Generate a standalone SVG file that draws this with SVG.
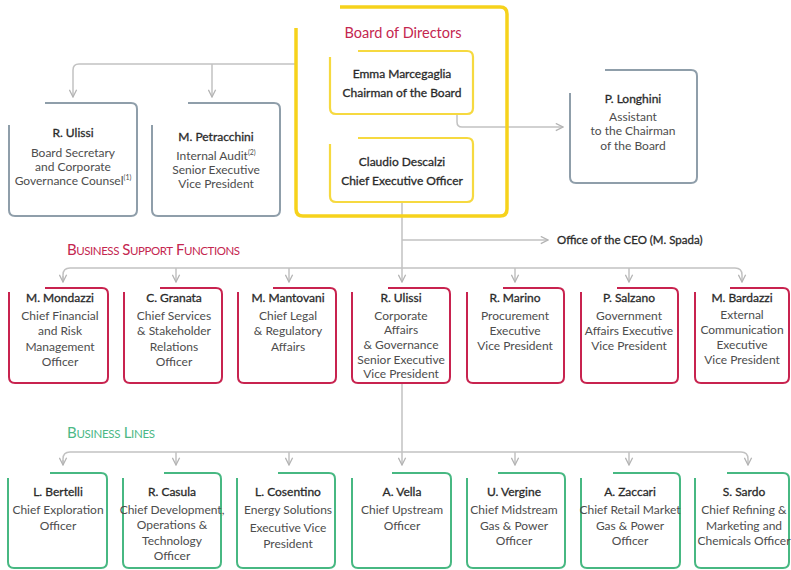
<svg xmlns="http://www.w3.org/2000/svg" width="791" height="570" viewBox="0 0 791 570">
<defs>
<marker id="arr" viewBox="0 0 10 10" refX="9" refY="5" markerWidth="9" markerHeight="9" markerUnits="userSpaceOnUse" orient="auto">
<path d="M1,1 L9,5 L1,9" fill="none" stroke="#b3b3b3" stroke-width="1.4"/>
</marker>
<style>
.conn{fill:none;stroke:#c2c2c2;stroke-width:1.5}
.gray{fill:none;stroke:#8f9eaa;stroke-width:2}
.red{fill:none;stroke:#c8234f;stroke-width:2}
.green{fill:none;stroke:#47b882;stroke-width:2}
.yb{fill:none;stroke:#f6d21c;stroke-width:3.5}
.yi{fill:none;stroke:#f6d940;stroke-width:2.2}
text{font-family:Lato,"Open Sans","Liberation Sans",sans-serif;font-size:12px;fill:#4d4d4d;text-anchor:middle}
.nm{fill:#2a2a2a;stroke:#2a2a2a;stroke-width:0.3}
.hd{text-anchor:start}
.sup{font-size:7px}
</style>
</defs>

<g id="connectors">
<path class="conn" d="M296,64 H79 Q73,64 73,70 V97" marker-end="url(#arr)"/>
<path class="conn" d="M212,64 V97" marker-end="url(#arr)"/>
<path class="conn" d="M457,114 V122 Q457,127 462,127 H563" marker-end="url(#arr)"/>
<path class="conn" d="M402,202 V282" marker-end="url(#arr)"/>
<path class="conn" d="M402,240 H548" marker-end="url(#arr)"/>
<path class="conn" d="M63,282 V275 Q63,268 70,268 H735 Q742,268 742,275 V282" marker-end="url(#arr)"/>
<path class="conn" d="M63,276 V282" marker-end="url(#arr)"/>
<path class="conn" d="M176,268 V282" marker-end="url(#arr)"/>
<path class="conn" d="M289,268 V282" marker-end="url(#arr)"/>
<path class="conn" d="M515,268 V282" marker-end="url(#arr)"/>
<path class="conn" d="M629,268 V282" marker-end="url(#arr)"/>
<path class="conn" d="M402,384 V465" marker-end="url(#arr)"/>
<path class="conn" d="M63,465 V459 Q63,452 70,452 H741 Q748,452 748,459 V465" marker-end="url(#arr)"/>
<path class="conn" d="M63,460 V465" marker-end="url(#arr)"/>
<path class="conn" d="M176,452 V465" marker-end="url(#arr)"/>
<path class="conn" d="M289,452 V465" marker-end="url(#arr)"/>
<path class="conn" d="M515,452 V465" marker-end="url(#arr)"/>
<path class="conn" d="M629,452 V465" marker-end="url(#arr)"/>
</g>

<g id="board">
<path class="yb" d="M296,28 V209 Q296,216 303,216 H500 Q507,216 507,209 V14 Q507,7 500,7 H340"/>
<text x="403" y="38" style="font-size:14.5px;fill:#c4264f">Board of Directors</text>
</g>
<g id="chairman">
<path class="yi" d="M330,57 V108 Q330,114 336,114 H467 Q473,114 473,108 V57 Q473,51 467,51 H358"/>
<text class="nm" x="402" y="78">Emma Marcegaglia</text>
<text class="nm" x="402" y="97">Chairman of the Board</text>
</g>
<g id="ceo">
<path class="yi" d="M330,144 V196 Q330,202 336,202 H467 Q473,202 473,196 V144 Q473,138 467,138 H358"/>
<text class="nm" x="402" y="166">Claudio Descalzi</text>
<text class="nm" x="402" y="185">Chief Executive Officer</text>
</g>

<g id="ulissi-board">
<path class="gray" d="M9,125 V210 Q9,216 15,216 H131 Q137,216 137,210 V109 Q137,103 131,103 H45"/>
<text class="nm" x="73" y="137">R. Ulissi</text>
<text x="73" y="157">Board Secretary</text>
<text x="73" y="171">and Corporate</text>
<text x="73" y="185">Governance Counsel<tspan class="sup" dy="-5">(1)</tspan></text>
</g>
<g id="petracchini">
<path class="gray" d="M152,125 V210 Q152,216 158,216 H274 Q280,216 280,210 V109 Q280,103 274,103 H188"/>
<text class="nm" x="216" y="141">M. Petracchini</text>
<text x="216" y="160">Internal Audit<tspan class="sup" dy="-5">(2)</tspan></text>
<text x="216" y="174">Senior Executive</text>
<text x="216" y="188">Vice President</text>
</g>
<g id="longhini">
<path class="gray" d="M570,93 V177 Q570,183 576,183 H691 Q697,183 697,177 V76 Q697,70 691,70 H605"/>
<text class="nm" x="633" y="103">P. Longhini</text>
<text x="633" y="121">Assistant</text>
<text x="633" y="135">to the Chairman</text>
<text x="633" y="150">of the Board</text>
</g>
<g id="office-ceo">
<text class="nm hd" x="557" y="244" style="font-size:11.5px">Office of the CEO (M. Spada)</text>
</g>

<g id="heading-support">
<text class="hd" x="67" y="255" textLength="173" lengthAdjust="spacing" style="fill:#c4264f;font-size:15px">B<tspan style="font-size:11.5px">USINESS</tspan> S<tspan style="font-size:11.5px">UPPORT</tspan> F<tspan style="font-size:11.5px">UNCTIONS</tspan></text>
</g>

<g id="mondazzi">
<path class="red" d="M9,292 V377 Q9,383 15,383 H102 Q108,383 108,377 V294 Q108,288 102,288 H45"/>
<text class="nm" x="60" y="302">M. Mondazzi</text>
<text x="60" y="320">Chief Financial</text>
<text x="60" y="335">and Risk</text>
<text x="60" y="351">Management</text>
<text x="60" y="366">Officer</text>
</g>
<g id="granata">
<path class="red" d="M124,292 V377 Q124,383 130,383 H216 Q222,383 222,377 V294 Q222,288 216,288 H160"/>
<text class="nm" x="174" y="302">C. Granata</text>
<text x="174" y="320">Chief Services</text>
<text x="174" y="335">&amp; Stakeholder</text>
<text x="174" y="351">Relations</text>
<text x="174" y="366">Officer</text>
</g>
<g id="mantovani">
<path class="red" d="M238,292 V377 Q238,383 244,383 H330 Q336,383 336,377 V294 Q336,288 330,288 H273"/>
<text class="nm" x="288" y="302">M. Mantovani</text>
<text x="288" y="320">Chief Legal</text>
<text x="288" y="335">&amp; Regulatory</text>
<text x="288" y="351">Affairs</text>
</g>
<g id="ulissi-corporate">
<path class="red" d="M352,292 V377 Q352,383 358,383 H444 Q450,383 450,377 V294 Q450,288 444,288 H388"/>
<text class="nm" x="401" y="302">R. Ulissi</text>
<text x="401" y="320">Corporate</text>
<text x="401" y="334">Affairs</text>
<text x="401" y="349">&amp; Governance</text>
<text x="401" y="364">Senior Executive</text>
<text x="401" y="378">Vice President</text>
</g>
<g id="marino">
<path class="red" d="M467,292 V377 Q467,383 473,383 H558 Q564,383 564,377 V294 Q564,288 558,288 H503"/>
<text class="nm" x="515" y="302">R. Marino</text>
<text x="515" y="320">Procurement</text>
<text x="515" y="335">Executive</text>
<text x="515" y="350">Vice President</text>
</g>
<g id="salzano">
<path class="red" d="M581,292 V377 Q581,383 587,383 H672 Q678,383 678,377 V294 Q678,288 672,288 H617"/>
<text class="nm" x="629" y="302">P. Salzano</text>
<text x="629" y="320">Government</text>
<text x="629" y="335">Affairs Executive</text>
<text x="629" y="350">Vice President</text>
</g>
<g id="bardazzi">
<path class="red" d="M695,292 V377 Q695,383 701,383 H783 Q789,383 789,377 V294 Q789,288 783,288 H730"/>
<text class="nm" x="742" y="302">M. Bardazzi</text>
<text x="742" y="319">External</text>
<text x="742" y="334">Communication</text>
<text x="742" y="349">Executive</text>
<text x="742" y="364">Vice President</text>
</g>

<g id="heading-lines">
<text class="hd" x="67" y="438" textLength="88" lengthAdjust="spacing" style="fill:#4cb886;font-size:15px">B<tspan style="font-size:11.5px">USINESS</tspan> L<tspan style="font-size:11.5px">INES</tspan></text>
</g>

<g id="bertelli">
<path class="green" d="M8,478 V562 Q8,568 14,568 H101 Q107,568 107,562 V479 Q107,473 101,473 H50"/>
<text class="nm" x="58" y="496">L. Bertelli</text>
<text x="58" y="514">Chief Exploration</text>
<text x="58" y="530">Officer</text>
</g>
<g id="casula">
<path class="green" d="M123,478 V562 Q123,568 129,568 H215 Q221,568 221,562 V479 Q221,473 215,473 H164"/>
<text class="nm" x="172" y="496">R. Casula</text>
<text x="172" y="514">Chief Development,</text>
<text x="172" y="529">Operations &amp;</text>
<text x="172" y="545">Technology</text>
<text x="172" y="560">Officer</text>
</g>
<g id="cosentino">
<path class="green" d="M237,478 V562 Q237,568 243,568 H329 Q335,568 335,562 V479 Q335,473 329,473 H278"/>
<text class="nm" x="288" y="496">L. Cosentino</text>
<text x="288" y="514">Energy Solutions</text>
<text x="288" y="532">Executive Vice</text>
<text x="288" y="548">President</text>
</g>
<g id="vella">
<path class="green" d="M352,478 V562 Q352,568 358,568 H445 Q451,568 451,562 V479 Q451,473 445,473 H392"/>
<text class="nm" x="402" y="496">A. Vella</text>
<text x="402" y="514">Chief Upstream</text>
<text x="402" y="530">Officer</text>
</g>
<g id="vergine">
<path class="green" d="M467,478 V562 Q467,568 473,568 H559 Q565,568 565,562 V479 Q565,473 559,473 H498"/>
<text class="nm" x="514" y="496">U. Vergine</text>
<text x="514" y="514">Chief Midstream</text>
<text x="514" y="530">Gas &amp; Power</text>
<text x="514" y="545">Officer</text>
</g>
<g id="zaccari">
<path class="green" d="M581,478 V562 Q581,568 587,568 H674 Q680,568 680,562 V479 Q680,473 674,473 H613"/>
<text class="nm" x="630" y="496">A. Zaccari</text>
<text x="630" y="514">Chief Retail Market</text>
<text x="630" y="530">Gas &amp; Power</text>
<text x="630" y="545">Officer</text>
</g>
<g id="sardo">
<path class="green" d="M695,478 V562 Q695,568 701,568 H783 Q789,568 789,562 V479 Q789,473 783,473 H727"/>
<text class="nm" x="744" y="496">S. Sardo</text>
<text x="744" y="514">Chief Refining &amp;</text>
<text x="744" y="530">Marketing and</text>
<text x="744" y="545">Chemicals Officer</text>
</g>
</svg>
